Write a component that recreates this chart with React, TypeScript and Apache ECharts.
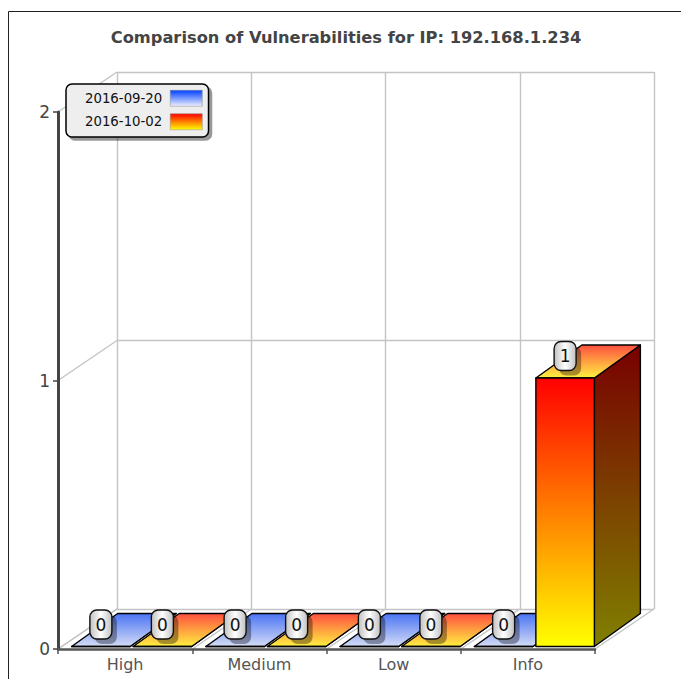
import React, { useEffect, useRef } from "react";
import * as echarts from "echarts";

const categories = ["High", "Medium", "Low", "Info"];
const seriesNames = ["2016-09-20", "2016-10-02"];
const firstValues = [0, 0, 0, 0];
const secondValues = [0, 0, 0, 1];
const valueTicks = [0, 1, 2];
const titleText = "Comparison of Vulnerabilities for IP: 192.168.1.234";

const font = "DejaVu Sans";
const GRID = { left: 58, top: 112, width: 537, height: 537 };
const WALL = { dx: 59, dy: -40 };
const BAR = { dx: 46, dy: -33, baseDy: -2.5, width: 58.5, gap: 3, shift: 6.5 };

const vGrad = (a: string, b: string) => ({
  type: "linear", x: 0, y: 0, x2: 0, y2: 1,
  colorStops: [{ offset: 0, color: a }, { offset: 1, color: b }],
});

const palettes = [
  {
    front: vGrad("#0040ff", "#ffffff"),
    top: vGrad("#4a74f4", "#d4dcf6"),
    side: vGrad("#002080", "#808080"),
    legend: vGrad("#0040ff", "#f0f0ff"),
  },
  {
    front: vGrad("#ff0000", "#ffff00"),
    top: vGrad("#ff5040", "#fff040"),
    side: vGrad("#780000", "#808000"),
    legend: vGrad("#ff0000", "#ffff00"),
  },
];

const barLeft = (cx: number, idx: number) => {
  const mid = cx + BAR.shift;
  return idx === 0 ? mid - BAR.gap / 2 - BAR.width : mid + BAR.gap / 2;
};

const barSeries = (idx: number, values: number[]) => ({
  type: "custom",
  name: seriesNames[idx],
  coordinateSystem: "cartesian2d",
  xAxisIndex: 0,
  yAxisIndex: 0,
  clip: false,
  z: 5 + idx,
  encode: { x: 0, y: 1 },
  data: values.map((v, i) => [i, v]),
  renderItem: (_: any, api: any) => {
    const [cx, vy] = api.coord([api.value(0), api.value(1)]);
    const [, y0] = api.coord([api.value(0), 0]);
    const pal = palettes[idx];
    const x0 = barLeft(cx, idx);
    const x1 = x0 + BAR.width;
    const bot = y0 + BAR.baseDy;
    const top = vy + BAR.baseDy;
    const { dx, dy } = BAR;
    const edge = { stroke: "#000", lineWidth: 1.4, lineJoin: "round" };
    return {
      type: "group",
      children: [
        { type: "polygon", shape: { points: [[x1, bot], [x1 + dx, bot + dy], [x1 + dx, top + dy], [x1, top]] }, style: { fill: pal.side, ...edge } },
        { type: "polygon", shape: { points: [[x0, top], [x1, top], [x1 + dx, top + dy], [x0 + dx, top + dy]] }, style: { fill: pal.top, ...edge } },
        { type: "rect", shape: { x: x0, y: top, width: BAR.width, height: bot - top }, style: { fill: pal.front, ...edge } },
      ],
    };
  },
});

const labelSeries = (idx: number, values: number[]) => ({
  type: "custom",
  name: `${seriesNames[idx]} labels`,
  coordinateSystem: "cartesian2d",
  xAxisIndex: 0,
  yAxisIndex: 0,
  clip: false,
  z: 10,
  encode: { x: 0, y: 1 },
  data: values.map((v, i) => [i, v]),
  renderItem: (_: any, api: any) => {
    const [cx, vy] = api.coord([api.value(0), api.value(1)]);
    const lc = barLeft(cx, idx) + BAR.width / 2;
    const ly = vy + BAR.baseDy - 22;
    return {
      type: "group",
      children: [
        { type: "rect", shape: { x: lc - 11 + 5, y: ly - 14.5 + 5, width: 22, height: 29, r: 7 }, style: { fill: "rgba(0,0,0,0.35)" } },
        {
          type: "rect",
          shape: { x: lc - 11, y: ly - 14.5, width: 22, height: 29, r: 7 },
          style: {
            fill: { type: "linear", x: 0, y: 0, x2: 1, y2: 0, colorStops: [{ offset: 0, color: "#c0c0c0" }, { offset: 0.5, color: "#ffffff" }, { offset: 1, color: "#c0c0c0" }] },
            stroke: "#111", lineWidth: 1.4,
          },
        },
        { type: "text", style: { text: String(api.value(1)), x: lc, y: ly, align: "center", verticalAlign: "middle", font: `17px '${font}'`, fill: "#111" } },
      ],
    };
  },
});

export default function App() {
  const ref = useRef<HTMLDivElement>(null);
  useEffect(() => {
    const chart = echarts.init(ref.current!, undefined, { renderer: "svg" });
    const wallStyle = { color: "#c4c4c4", width: 1.4 };
    const hiddenAxis = { axisLine: { show: false }, axisTick: { show: false }, axisLabel: { show: false } };
    chart.setOption({
      animation: false,
      backgroundColor: "#fff",
      textStyle: { fontFamily: font },
      title: {
        text: titleText, left: 341, top: 24, textAlign: "center",
        textStyle: { fontFamily: font, fontSize: 16.25, fontWeight: "bold", color: "#444" },
      },
      legend: {
        left: 66, top: 84, orient: "vertical", align: "right",
        padding: [6, 6, 7, 19], itemWidth: 32, itemHeight: 16, itemGap: 7,
        backgroundColor: "#eeeeee", borderColor: "#000", borderWidth: 1.5, borderRadius: 6,
        shadowColor: "rgba(0,0,0,0.4)", shadowBlur: 0, shadowOffsetX: 3, shadowOffsetY: 3,
        textStyle: { fontFamily: font, fontSize: 13.3, color: "#111", padding: [0, 3, 0, 0] },
        selectedMode: false,
        data: seriesNames.map((name, i) => ({
          name, icon: "rect",
          itemStyle: { color: palettes[i].legend, borderColor: "#888", borderWidth: 0.5 },
        })),
      },
      grid: [
        { ...GRID },
        { left: GRID.left + WALL.dx, top: GRID.top + WALL.dy, width: GRID.width, height: GRID.height },
      ],
      xAxis: [
        {
          type: "category", gridIndex: 0, data: categories, z: 4,
          axisLine: { lineStyle: { color: "#555", width: 2.5 } },
          axisTick: { show: true, alignWithLabel: false, length: 5, lineStyle: { color: "#555", width: 1.5 } },
          axisLabel: { color: "#555", fontSize: 16, fontFamily: font, margin: 7 },
          splitLine: { show: false },
        },
        { type: "category", gridIndex: 1, data: categories, ...hiddenAxis, splitLine: { show: true, lineStyle: wallStyle } },
      ],
      yAxis: [
        {
          type: "value", gridIndex: 0, min: 0, max: 2, interval: 1, z: 4,
          axisLine: { show: true, lineStyle: { color: "#444", width: 3 } },
          axisTick: { show: true, length: 5, lineStyle: { color: "#444", width: 1.5 } },
          axisLabel: { color: "#444", fontSize: 17, fontFamily: font, margin: 8 },
          splitLine: { show: false },
        },
        { type: "value", gridIndex: 1, min: 0, max: 2, interval: 1, ...hiddenAxis, splitLine: { show: true, lineStyle: wallStyle } },
      ],
      series: [
        {
          type: "custom", name: "depth-y", xAxisIndex: 0, yAxisIndex: 0, clip: false, z: 1, silent: true,
          data: valueTicks.map((v) => [0, v]),
          encode: { x: 0, y: 1 },
          renderItem: (_: any, api: any) => {
            const [, y] = api.coord([0, api.value(1)]);
            return { type: "line", shape: { x1: GRID.left, y1: y, x2: GRID.left + WALL.dx, y2: y + WALL.dy }, style: { stroke: wallStyle.color, lineWidth: wallStyle.width } };
          },
        },
        {
          type: "custom", name: "depth-x", xAxisIndex: 0, yAxisIndex: 0, clip: false, z: 1, silent: true,
          data: [...categories.map((_, i) => [i, 0]), [categories.length - 1, 1]],
          encode: { x: 0, y: 1 },
          renderItem: (_: any, api: any) => {
            const [cx, y] = api.coord([api.value(0), 0]);
            const w = api.size([1, 0])[0];
            const x = cx + (api.value(1) === 1 ? w / 2 : -w / 2);
            return { type: "line", shape: { x1: x, y1: y, x2: x + WALL.dx, y2: y + WALL.dy }, style: { stroke: wallStyle.color, lineWidth: wallStyle.width } };
          },
        },
        barSeries(0, firstValues),
        barSeries(1, secondValues),
        labelSeries(0, firstValues),
        labelSeries(1, secondValues),
      ],
      graphic: [
        { type: "polyline", z: 20, shape: { points: [[8.5, 679], [8.5, 11.5], [681, 11.5]] }, style: { stroke: "#222", lineWidth: 1, fill: "none" } },
      ],
    });
    return () => chart.dispose();
  }, []);
  return <div ref={ref} style={{ position: "fixed", left: 0, top: 0, width: 681, height: 679 }} />;
}
